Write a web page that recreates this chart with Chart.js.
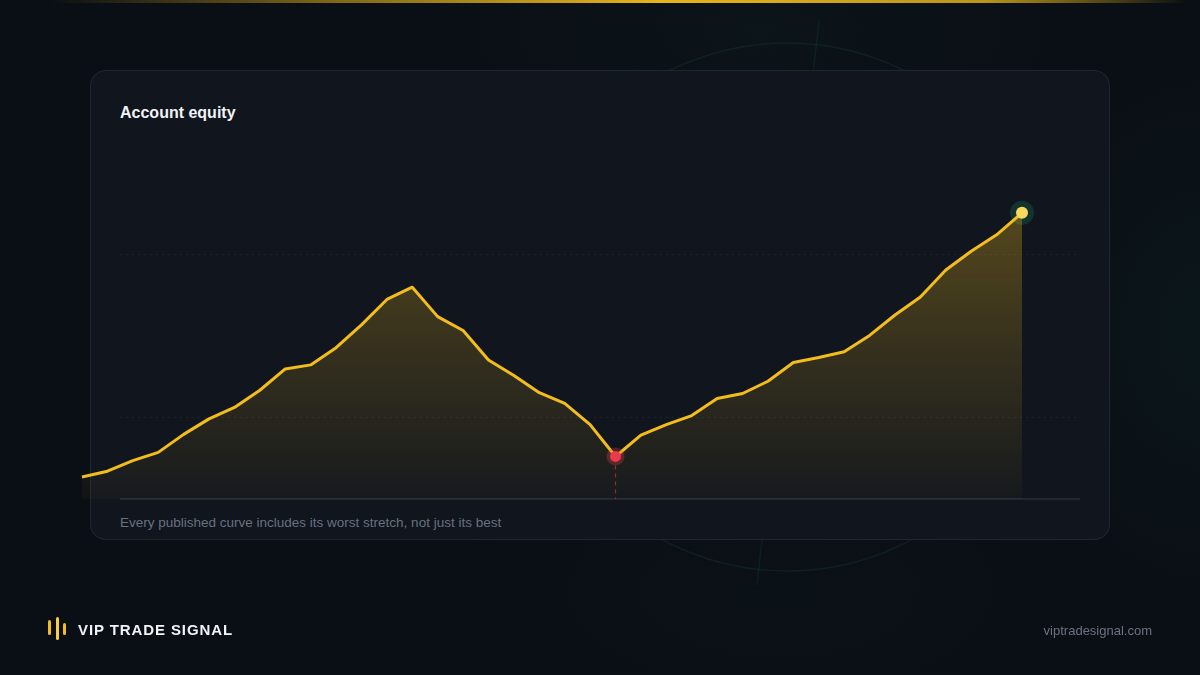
<!DOCTYPE html>
<html>
<head>
<meta charset="utf-8">
<script src="https://cdn.jsdelivr.net/npm/chart.js@4.4.1/dist/chart.umd.min.js"></script>
<style>
  html, body { margin: 0; padding: 0; }
  body {
    width: 1200px; height: 675px; overflow: hidden; position: relative;
    background:
      radial-gradient(ellipse 320px 420px at 1210px 330px, rgba(16, 70, 55, .16), transparent 70%),
      radial-gradient(ellipse 520px 200px at 760px 30px, rgba(20, 60, 45, .14), transparent 70%),
      radial-gradient(ellipse 500px 240px at 780px 590px, rgba(20, 60, 45, .08), transparent 70%),
      #0a0e15;
    font-family: "Liberation Sans", Arial, sans-serif;
  }
  .topline {
    position: absolute; left: 0; top: 0; width: 1200px; height: 3px;
    background: linear-gradient(90deg, rgba(245,194,27,0) 4%, rgba(245,194,27,.5) 28%, #e9b41c 55%, rgba(245,194,27,.75) 82%, rgba(245,194,27,0) 99%);
  }
  svg.deco { position: absolute; left: 0; top: 0; }
  .card {
    position: absolute; left: 90px; top: 70px; width: 1018px; height: 468px;
    border: 1px solid rgba(148, 163, 184, .13); border-radius: 16px;
    background: #10151e;
  }
  .title { position: absolute; left: 120px; top: 104px; color: #f1f3f6; font-weight: 700; font-size: 16px; }
  .caption { position: absolute; left: 120px; top: 515px; color: #687180; font-size: 13.5px; }
  canvas { position: absolute; left: 0; top: 0; pointer-events: none; }
  .logo { position: absolute; left: 48px; top: 617px; width: 20px; height: 24px; }
  .logo span { position: absolute; width: 3px; border-radius: 1.5px; background: #f2bf1f; }
  .brand { position: absolute; left: 78px; top: 621px; color: #f1f3f6; font-weight: 700; font-size: 15px; letter-spacing: 0.9px; }
  .domain { position: absolute; right: 48px; top: 623px; color: #6b7280; font-size: 13px; }
</style>
</head>
<body>
<div class="topline"></div>
<svg class="deco" width="1200" height="675">
  <circle cx="787" cy="307" r="264" fill="none" stroke="rgba(40,110,85,.16)" stroke-width="1.5"/>
  <line x1="819" y1="20" x2="757" y2="585" stroke="rgba(40,110,85,.14)" stroke-width="1.5"/>
</svg>
<div class="card"></div>
<div class="title">Account equity</div>
<div class="caption">Every published curve includes its worst stretch, not just its best</div>
<canvas id="eq" width="1200" height="675"></canvas>
<div class="logo">
  <span style="left:0;top:3px;height:15px"></span>
  <span style="left:8px;top:0;height:23px;background:#f7cf45"></span>
  <span style="left:15px;top:6px;height:12px"></span>
</div>
<div class="brand">VIP TRADE SIGNAL</div>
<div class="domain">viptradesignal.com</div>

<script>
const weeks = ['W1','W2','W3','W4','W5','W6','W7','W8','W9','W10','W11','W12','W13','W14','W15','W16','W17','W18','W19',
  'W20','W21','W22','W23','W24','W25','W26','W27','W28','W29','W30','W31','W32','W33','W34','W35','W36','W37','W38'];
const equity = [27, 34, 47, 57, 79, 98, 112, 133, 159, 164, 185, 213, 244, 259, 223, 206, 170, 151, 130,
  117, 91, 52, 78, 91, 102, 123, 129, 144, 167, 173, 180, 200, 225, 247, 280, 303, 323, 350];
const gridValues = [100, 300];
const yMin = 0;
const yMax = 450;

// bottom of the deepest drawdown
let peak = equity[0], worst = 0, troughIdx = 0;
equity.forEach((v, i) => {
  peak = Math.max(peak, v);
  if (peak - v > worst) { worst = peak - v; troughIdx = i; }
});
const lastIdx = equity.length - 1;

// gridlines, baseline, drawdown marker and point halos
const decor = {
  id: 'decor',
  beforeDatasetsDraw(chart) {
    const { ctx } = chart;
    const y = chart.scales.y;
    const pts = chart.getDatasetMeta(0).data;
    ctx.save();
    ctx.strokeStyle = 'rgba(148,163,184,.10)';
    ctx.lineWidth = 1;
    ctx.setLineDash([2, 4]);
    gridValues.forEach(v => {
      const py = Math.round(y.getPixelForValue(v)) + 0.5;
      ctx.beginPath(); ctx.moveTo(120, py); ctx.lineTo(1080, py); ctx.stroke();
    });
    ctx.setLineDash([]);
    const e = pts[lastIdx];
    ctx.fillStyle = 'rgba(22,110,80,.35)';
    ctx.beginPath(); ctx.arc(e.x, e.y, 12, 0, Math.PI * 2); ctx.fill();
    ctx.restore();
  },
  afterDatasetsDraw(chart) {
    const { ctx } = chart;
    const y = chart.scales.y;
    const pts = chart.getDatasetMeta(0).data;
    const base = y.getPixelForValue(yMin);
    ctx.save();
    ctx.strokeStyle = 'rgba(148,163,184,.2)';
    ctx.lineWidth = 1.5;
    ctx.beginPath(); ctx.moveTo(120, base); ctx.lineTo(1080, base); ctx.stroke();

    const t = pts[troughIdx];
    ctx.strokeStyle = 'rgba(232,56,74,.6)';
    ctx.lineWidth = 1.2;
    ctx.setLineDash([4, 4]);
    ctx.beginPath(); ctx.moveTo(t.x, t.y + 9); ctx.lineTo(t.x, base); ctx.stroke();
    ctx.setLineDash([]);
    ctx.fillStyle = 'rgba(239,68,68,.28)';
    ctx.beginPath(); ctx.arc(t.x, t.y, 9, 0, Math.PI * 2); ctx.fill();
    ctx.fillStyle = '#ea3a4c';
    ctx.beginPath(); ctx.arc(t.x, t.y, 5.5, 0, Math.PI * 2); ctx.fill();
    ctx.restore();
  }
};

new Chart(document.getElementById('eq'), {
  type: 'line',
  data: {
    labels: weeks,
    datasets: [{
      data: equity,
      borderColor: '#f3bd1c',
      borderWidth: 3,
      borderJoinStyle: 'round',
      tension: 0,
      fill: 'origin',
      clip: false,
      backgroundColor(c) {
        const { chart } = c;
        if (!chart.chartArea) return 'rgba(243,189,28,.2)';
        const ys = chart.scales.y;
        const g = chart.ctx.createLinearGradient(0, ys.getPixelForValue(Math.max(...equity)), 0, ys.getPixelForValue(yMin));
        g.addColorStop(0, 'rgba(243,189,28,.30)');
        g.addColorStop(0.5, 'rgba(243,189,28,.16)');
        g.addColorStop(1, 'rgba(243,189,28,.03)');
        return g;
      },
      pointRadius: c => c.dataIndex === lastIdx ? 6 : 0,
      pointBackgroundColor: '#f9d95c',
      pointBorderWidth: 0,
      pointHoverRadius: 0
    }]
  },
  options: {
    responsive: false,
    animation: false,
    layout: { padding: { left: 82, right: 178, top: 131, bottom: 176 } },
    plugins: { legend: { display: false }, tooltip: { enabled: false } },
    scales: {
      x: { display: false, offset: false },
      y: { display: false, min: yMin, max: yMax }
    }
  },
  plugins: [decor]
});
</script>
</body>
</html>
